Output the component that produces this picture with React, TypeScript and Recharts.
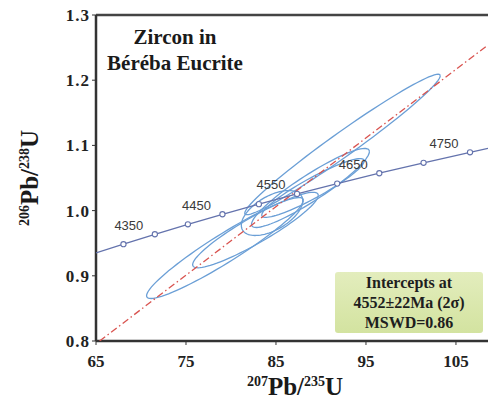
import React from 'react';
import {
  ComposedChart,
  Scatter,
  XAxis,
  YAxis,
  ReferenceLine,
} from 'recharts';

// concordia curve (ends clipped at the frame)
const concordiaX = [65, 68.05, 71.54, 75.21, 79.05, 83.1, 87.34, 91.8, 96.48, 101.4, 106.56, 108.56];
const concordiaY = [0.935, 0.9485, 0.9637, 0.979, 0.9944, 1.0099, 1.0256, 1.0414, 1.0573, 1.0733, 1.0894, 1.0954];
const concordiaAge = [0, 4300, 4350, 4400, 4450, 4500, 4550, 4600, 4650, 4700, 4750, 0];
const labeledAges = [4350, 4450, 4550, 4650, 4750];

// discordia line
const discordiaX = [65.4, 108.56];
const discordiaY = [0.8, 1.254];

// error ellipses: centre, 2-sigma half widths, correlation
const ellipseX = [79.33, 82.72, 84.56, 92.39, 88.83, 89.11];
const ellipseSX = [8.71, 6.98, 3.41, 10.86, 6.55, 5.69];
const ellipseY = [0.9426, 0.9702, 0.9963, 1.1014, 1.0347, 1.0347];
const ellipseSY = [0.0774, 0.0579, 0.0345, 0.1077, 0.0606, 0.045];
const ellipseRho = [0.945, 0.918, 0.545, 0.978, 0.921, 0.922];

const xTicks = [65, 75, 85, 95, 105];
const yTicks = [0.8, 0.9, 1.0, 1.1, 1.2, 1.3];

const serif = '"Liberation Serif", "DejaVu Serif", serif';
const sans = '"Liberation Sans", Arial, sans-serif';

const ellipsePath = (i: number) => {
  const pts = [];
  const k = Math.sqrt(1 - ellipseRho[i] * ellipseRho[i]);
  for (let s = 0; s <= 90; s++) {
    const t = (s / 90) * Math.PI * 2;
    pts.push({
      x: ellipseX[i] + ellipseSX[i] * Math.cos(t),
      y: ellipseY[i] + ellipseSY[i] * (ellipseRho[i] * Math.cos(t) + k * Math.sin(t)),
    });
  }
  return pts;
};

const concordiaData = concordiaX.map((x, i) => ({ x, y: concordiaY[i], age: concordiaAge[i] }));
const discordiaData = discordiaX.map((x, i) => ({ x, y: discordiaY[i] }));

const Empty = () => <g />;

const AgeMarker = (props: any) => {
  const { cx, cy, payload } = props;
  if (!payload.age) return <g />;
  return (
    <g>
      <circle cx={cx} cy={cy} r={2.6} fill="#fff" stroke="#6473ad" strokeWidth={1.1} />
      {labeledAges.includes(payload.age) && (
        <text
          x={cx - 26}
          y={cy - 9}
          textAnchor="middle"
          dominantBaseline="central"
          fontFamily={sans}
          fontSize={13}
          fill="#3a3a3a"
        >
          {payload.age}
        </text>
      )}
    </g>
  );
};

const supStyle: React.CSSProperties = { fontSize: 14, position: 'relative', top: -9 };

export default function App() {
  return (
    <div style={{ position: 'absolute', left: 0, top: 0, width: 488, height: 399, background: '#fff', overflow: 'hidden' }}>
      <ComposedChart width={488} height={399} margin={{ top: 15, right: 0, bottom: 0, left: 0 }}>
        <XAxis
          type="number"
          dataKey="x"
          domain={[65, 108.56]}
          allowDataOverflow
          ticks={xTicks}
          height={58}
          tickSize={4}
          tickMargin={10}
          axisLine={{ stroke: '#333', strokeWidth: 2.5 }}
          tickLine={{ stroke: '#333' }}
          tick={{ fontFamily: serif, fontWeight: 'bold', fontSize: 17, fill: '#222' }}
        />
        <YAxis
          type="number"
          dataKey="y"
          domain={[0.8, 1.3]}
          allowDataOverflow
          ticks={yTicks}
          width={96}
          tickSize={4}
          tickMargin={2}
          tickFormatter={(v: number) => v.toFixed(1)}
          axisLine={{ stroke: '#333', strokeWidth: 2.5 }}
          tickLine={{ stroke: '#333' }}
          tick={{ fontFamily: serif, fontWeight: 'bold', fontSize: 17, fill: '#222', letterSpacing: 1 }}
        />
        <ReferenceLine y={1.3} stroke="#444" strokeWidth={2.5} />
        {ellipseX.map((_, i) => (
          <Scatter
            key={i}
            data={ellipsePath(i)}
            line={{ stroke: '#6b9fd6', strokeWidth: 1.3, fill: 'none' }}
            lineType="joint"
            shape={Empty}
            isAnimationActive={false}
          />
        ))}
        <Scatter
          data={discordiaData}
          line={{ stroke: '#d9534f', strokeWidth: 1.3, strokeDasharray: '7 3 1.5 3' }}
          lineType="joint"
          shape={Empty}
          isAnimationActive={false}
        />
        <Scatter
          data={concordiaData}
          line={{ stroke: '#6473ad', strokeWidth: 1.3 }}
          lineType="joint"
          shape={AgeMarker}
          isAnimationActive={false}
        />
      </ComposedChart>

      <div
        style={{
          position: 'absolute',
          left: 90,
          top: 24,
          width: 170,
          textAlign: 'center',
          fontFamily: serif,
          fontWeight: 'bold',
          fontSize: 21,
          lineHeight: '26px',
          color: '#1a1a1a',
        }}
      >
        Zircon in
        <br />
        Béréba Eucrite
      </div>

      <div
        style={{
          position: 'absolute',
          left: 335,
          top: 272,
          width: 148,
          height: 61,
          borderRadius: 3,
          background: 'linear-gradient(180deg, #e3edbd 0%, #d3e3a0 100%)',
          textAlign: 'center',
          fontFamily: serif,
          fontWeight: 'bold',
          fontSize: 16,
          lineHeight: '20px',
          color: '#1e1e1e',
          paddingTop: 1,
          boxSizing: 'border-box',
        }}
      >
        Intercepts at
        <br />
        4552±22Ma (2σ)
        <br />
        MSWD=0.86
      </div>

      <div
        style={{
          position: 'absolute',
          left: 230,
          top: 373,
          width: 130,
          height: 28,
          textAlign: 'center',
          fontFamily: serif,
          fontWeight: 'bold',
          fontSize: 25,
          lineHeight: '28px',
          color: '#1a1a1a',
          whiteSpace: 'nowrap',
        }}
      >
        <span style={supStyle}>207</span>Pb/<span style={supStyle}>235</span>U
      </div>

      <div
        style={{
          position: 'absolute',
          left: 30 - 65,
          top: 178 - 14,
          width: 130,
          height: 28,
          textAlign: 'center',
          fontFamily: serif,
          fontWeight: 'bold',
          fontSize: 25,
          lineHeight: '28px',
          color: '#1a1a1a',
          whiteSpace: 'nowrap',
          transform: 'rotate(-90deg)',
        }}
      >
        <span style={supStyle}>206</span>Pb/<span style={supStyle}>238</span>U
      </div>
    </div>
  );
}
